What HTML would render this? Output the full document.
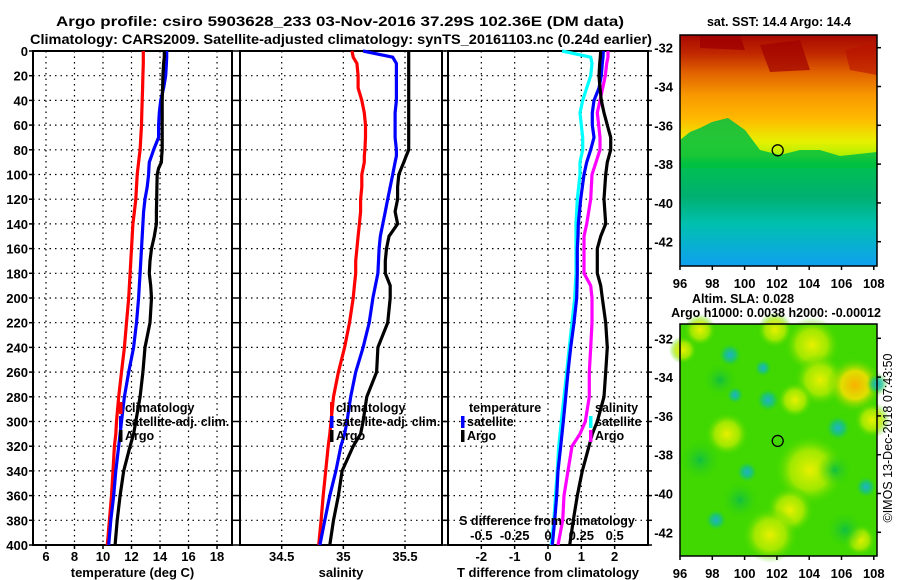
<!DOCTYPE html>
<html><head><meta charset="utf-8"><style>
html,body{margin:0;padding:0;background:#fff;}
svg{display:block;font-family:"Liberation Sans",Arial,sans-serif;font-weight:bold;}
</style></head><body>
<svg id="c" width="900" height="580" viewBox="0 0 900 580">
<defs>
<linearGradient id="sst" x1="0" y1="0" x2="0" y2="1">
<stop offset="0" stop-color="#a80800"/><stop offset="0.08" stop-color="#c02800"/><stop offset="0.16" stop-color="#e06000"/><stop offset="0.26" stop-color="#f89800"/><stop offset="0.36" stop-color="#ffb800"/><stop offset="0.46" stop-color="#e8f000"/><stop offset="0.52" stop-color="#b0f000"/><stop offset="0.56" stop-color="#00c050"/><stop offset="0.7" stop-color="#00b070"/><stop offset="0.82" stop-color="#00c0b0"/><stop offset="1" stop-color="#10a0f0"/>
</linearGradient>
<radialGradient id="yb"><stop offset="0" stop-color="#e8f000"/><stop offset="0.55" stop-color="#b8ec00" stop-opacity="0.8"/><stop offset="1" stop-color="#40d800" stop-opacity="0"/></radialGradient>
<radialGradient id="ob"><stop offset="0" stop-color="#f8b000"/><stop offset="0.5" stop-color="#f0e000" stop-opacity="0.9"/><stop offset="1" stop-color="#40d800" stop-opacity="0"/></radialGradient>
<radialGradient id="tb"><stop offset="0" stop-color="#20b0d0"/><stop offset="0.5" stop-color="#10c090" stop-opacity="0.7"/><stop offset="1" stop-color="#40d800" stop-opacity="0"/></radialGradient>
<radialGradient id="gb"><stop offset="0" stop-color="#10c040"/><stop offset="1" stop-color="#40d800" stop-opacity="0"/></radialGradient>
</defs>
<g id="titles">
<text x="340" y="26" text-anchor="middle" font-size="14" textLength="568" lengthAdjust="spacingAndGlyphs">Argo profile: csiro 5903628_233 03-Nov-2016 37.29S 102.36E (DM data)</text>
<text x="341" y="44" text-anchor="middle" font-size="14" textLength="622" lengthAdjust="spacingAndGlyphs">Climatology: CARS2009. Satellite-adjusted climatology: synTS_20161103.nc (0.24d earlier)</text>
</g>
<g id="plots"></g>
<g id="maps"></g>
</svg>
<script>
const depths=[0,5,10,20,30,40,50,60,70,80,85,90,95,100,110,120,130,140,150,160,170,180,190,200,220,240,260,280,300,310,320,340,360,380,400];
const climT=[12.83,12.83,12.83,12.8,12.78,12.75,12.72,12.7,12.65,12.6,12.55,12.5,12.45,12.4,12.35,12.3,12.2,12.1,12.05,12.0,11.95,11.9,11.85,11.8,11.65,11.5,11.3,11.1,10.95,10.9,10.8,10.7,10.6,10.45,10.3];
const satT=[14.47,14.47,14.45,14.4,14.25,14.05,13.95,13.9,13.9,13.55,13.4,13.25,13.22,13.2,13.1,12.95,12.85,12.8,12.75,12.7,12.65,12.6,12.55,12.5,12.35,12.15,11.8,11.5,11.3,11.2,11.1,10.9,10.75,10.55,10.4];
const argoT=[14.3,14.3,14.25,14.2,14.18,14.15,14.15,14.15,14.15,14.15,14.12,14.1,13.9,13.8,13.78,13.77,13.75,13.75,13.6,13.4,13.3,13.25,13.35,13.4,13.3,12.95,12.8,12.6,12.3,12.15,11.9,11.45,11.2,11.0,10.85];
const climS=[35.07,35.08,35.11,35.12,35.12,35.15,35.17,35.18,35.18,35.175,35.17,35.17,35.16,35.15,35.15,35.14,35.14,35.13,35.12,35.11,35.10,35.10,35.09,35.08,35.05,35.01,34.96,34.92,34.90,34.89,34.877,34.857,34.837,34.82,34.80];
const satS=[35.16,35.40,35.43,35.43,35.43,35.43,35.42,35.42,35.42,35.43,35.43,35.42,35.41,35.40,35.38,35.36,35.34,35.32,35.30,35.29,35.285,35.28,35.26,35.24,35.21,35.16,35.10,35.06,35.03,35.01,34.98,34.94,34.89,34.85,34.81];
const argoS=[35.53,35.53,35.53,35.53,35.53,35.53,35.53,35.53,35.53,35.53,35.51,35.49,35.47,35.45,35.44,35.44,35.42,35.44,35.37,35.35,35.34,35.34,35.38,35.38,35.36,35.28,35.27,35.19,35.16,35.14,35.08,34.99,34.96,34.92,34.89];
const diffDepths=[0,5,10,20,30,40,50,60,70,80,90,100,120,140,150,160,180,190,200,220,240,260,280,300,310,320,340,360,380,400];
const tdiffSat=[1.66,1.65,1.63,1.60,1.53,1.38,1.33,1.33,1.38,1.28,1.16,1.08,0.98,0.91,0.90,0.88,0.88,0.87,0.86,0.78,0.68,0.60,0.53,0.46,0.42,0.38,0.30,0.26,0.20,0.13];
const sdiffSat=[0.106,0.32,0.33,0.32,0.29,0.26,0.24,0.25,0.26,0.26,0.24,0.24,0.22,0.21,0.21,0.21,0.21,0.205,0.20,0.18,0.16,0.14,0.12,0.10,0.09,0.08,0.07,0.056,0.044,0.024];
const sdiffArgo=[0.45,0.45,0.44,0.43,0.41,0.39,0.37,0.38,0.39,0.39,0.36,0.33,0.32,0.29,0.27,0.27,0.27,0.32,0.33,0.33,0.32,0.31,0.31,0.28,0.24,0.18,0.15,0.12,0.11,0.075];
const tdiffArgo=[1.58,1.57,1.55,1.53,1.56,1.60,1.68,1.78,1.88,1.88,1.78,1.73,1.68,1.73,1.58,1.48,1.48,1.58,1.63,1.73,1.78,1.73,1.68,1.48,1.33,1.23,1.03,0.88,0.76,0.65];
const depthTicks=[0,20,40,60,80,100,120,140,160,180,200,220,240,260,280,300,320,340,360,380,400];
const tempTicks=[6,8,10,12,14,16,18];
const salTicks=[34.5,35,35.5];
const tdiffTicks=[-2,-1,0,1,2];
const sdiffTicks=[-0.5,-0.25,0,0.25,0.5];
const sdiffLabels=["-0.5","-0.25","0","0.25","0.5"];
const lonTicks=[96,98,100,102,104,106,108];
const latTicks=[-32,-34,-36,-38,-40,-42];
const argoPos=[102.36,-37.29];

const NS="http://www.w3.org/2000/svg";
function mk(tag,attrs,parent,txt){const e=document.createElementNS(NS,tag);for(const k in attrs)e.setAttribute(k,attrs[k]);if(txt!==undefined)e.textContent=txt;parent.appendChild(e);return e;}
const plots=document.getElementById('plots');
const Y0=51,Y1=545;
const yD=d=>Y0+(d/400)*(Y1-Y0);
const panels=[
 {name:'temperature',x0:33,x1:232,d0:5.09,d1:19.05,ticks:tempTicks,labels:tempTicks.map(String),xlabel:'temperature (deg C)'},
 {name:'salinity',x0:240,x1:442,d0:34.162,d1:35.80,ticks:salTicks,labels:salTicks.map(String),xlabel:'salinity'},
 {name:'difference',x0:448,x1:648,d0:-3,d1:3,ticks:tdiffTicks,labels:tdiffTicks.map(String),xlabel:'T difference from climatology'}
];
function sx(p,v){return p.x0+(v-p.d0)/(p.d1-p.d0)*(p.x1-p.x0);}
function line(p,dep,vals,color,name,scaleFn){
 let d='';vals.forEach((v,i)=>{const x=scaleFn?scaleFn(v):sx(p,v);d+=(i?'L':'M')+x.toFixed(1)+','+yD(dep[i]).toFixed(1);});
 const el=mk('path',{d:d,fill:'none',stroke:color,'stroke-width':3.2,'stroke-linejoin':'miter'},plots);
 
 
}
panels.forEach((p,pi)=>{
 const g=mk('g',{},plots);
 
 
 depthTicks.forEach(t=>{const y=yD(t);
  if(t>0&&t<400)mk('line',{x1:p.x0,x2:p.x1,y1:y,y2:y,stroke:'#000','stroke-width':1.2,'stroke-dasharray':'1.5,4'},g);
  mk('line',{x1:p.x0-4,x2:p.x0,y1:y,y2:y,stroke:'#000','stroke-width':1.5},g);
  mk('line',{x1:p.x1,x2:p.x1+4,y1:y,y2:y,stroke:'#000','stroke-width':1.5},g);
  if(pi===0){const tl=mk('text',{x:28,y:y+5,'text-anchor':'end','font-size':13},g,String(t));
   
   }
 });
 p.ticks.forEach((t,i)=>{const x=sx(p,t);
  mk('line',{x1:x,x2:x,y1:Y0,y2:Y1,stroke:'#000','stroke-width':1.2,'stroke-dasharray':'1.5,4'},g);
  mk('line',{x1:x,x2:x,y1:Y1,y2:Y1+4,stroke:'#000','stroke-width':1.5},g);
  const tl=mk('text',{x:x,y:561,'text-anchor':'middle','font-size':13},g,p.labels[i]);
  
  
 });
 mk('rect',{x:p.x0,y:Y0,width:p.x1-p.x0,height:Y1-Y0,fill:'none',stroke:'#000','stroke-width':2},g);
 const xl=mk('text',{x:(p.x0+p.x1)/2,y:577,'text-anchor':'middle','font-size':13},g,p.xlabel);
 
 
});
const P=panels;
line(P[0],depths,climT,'#ff0000','temp-climatology-line');
line(P[0],depths,satT,'#0000ff','temp-satellite-line');
line(P[0],depths,argoT,'#000','temp-argo-line');
line(P[1],depths,climS,'#ff0000','salinity-climatology-line');
line(P[1],depths,satS,'#0000ff','salinity-satellite-line');
line(P[1],depths,argoS,'#000','salinity-argo-line');
const sdx=v=>sx(P[2],v*4);
line(P[2],diffDepths,sdiffSat,'#00ffff','sdiff-satellite-line',sdx);
line(P[2],diffDepths,tdiffSat,'#0000ff','tdiff-satellite-line');
line(P[2],diffDepths,sdiffArgo,'#ff00ff','sdiff-argo-line',sdx);
line(P[2],diffDepths,tdiffArgo,'#000','tdiff-argo-line');
const sg=mk('g',{},plots);


mk('text',{x:547,y:525,'text-anchor':'middle','font-size':12.5},sg,'S difference from climatology');
sdiffTicks.forEach((t,i)=>{const tl=mk('text',{x:sdx(t),y:540,'text-anchor':'middle','font-size':13},sg,sdiffLabels[i]);
 
 });
function legend(x,y,items,name){
 const g=mk('g',{},plots);
 
 
 items.forEach((it,i)=>{const yy=y+i*14;
  if(it[1])mk('rect',{x:x,y:yy-10,width:3.5,height:12,fill:it[1]},g);
  const t=mk('text',{x:it[1]?x+6:x,y:yy,'font-size':12.5},g,it[0]);
  
  
 });
}
legend(119,412,[['climatology','#ff0000'],['satellite-adj. clim.','#0000ff'],['Argo','#000']],'temp-legend');
legend(330,412,[['climatology','#ff0000'],['satellite-adj. clim.','#0000ff'],['Argo','#000']],'salinity-legend');
legend(469,412,[['temperature',null]],'tdiff-legend-title');
legend(461,426,[['satellite','#0000ff'],['Argo','#000']],'tdiff-legend');
legend(595,412,[['salinity',null]],'sdiff-legend-title');
legend(589,426,[['satellite','#00ffff'],['Argo','#ff00ff']],'sdiff-legend');

const maps=document.getElementById('maps');
function mapFrame(y0,y1,latTop,name,fillFn){
 const g=mk('g',{},maps);
 
 
 const x0=680,x1=877;
 fillFn(g,x0,y0,x1,y1);
 mk('rect',{x:x0,y:y0,width:x1-x0,height:y1-y0,fill:'none',stroke:'#000','stroke-width':1.5},g);
 const lx=v=>680+(v-96)*16.15, ly=v=>latTop+(-32-v)*19.4;
 latTicks.forEach(t=>{const y=ly(t);mk('line',{x1:x1,x2:x1+4,y1:y,y2:y,stroke:'#000','stroke-width':1.5},g);
  const tl=mk('text',{x:673,y:y+5,'text-anchor':'end','font-size':13},g,String(t));
  
  });
 lonTicks.forEach(t=>{const x=lx(t);mk('line',{x1:x,x2:x,y1:y1,y2:y1+4,stroke:'#000','stroke-width':1.5},g);
  const tl=mk('text',{x:x,y:y1+22,'text-anchor':'middle','font-size':13},g,String(t));
  
  });
 const c=mk('circle',{cx:lx(argoPos[0])-5,cy:ly(argoPos[1]),r:5.5,fill:'none',stroke:'#000','stroke-width':1.3},g);
 
 
}
mapFrame(35,266,47.7,'sst-map',(g,x0,y0,x1,y1)=>{
 mk('rect',{x:x0,y:y0,width:x1-x0,height:y1-y0,fill:'url(#sst)'},g);
 mk('path',{d:'M680,140 L690,132 L700,128 L712,122 L728,118 L745,130 L760,150 L780,155 L800,150 L820,150 L840,156 L877,152 L877,168 L680,168Z',fill:'#00c040',opacity:0.85},g);
 mk('path',{d:'M700,35 L740,35 L745,50 L700,48Z',fill:'#a00000',opacity:0.8},g);
 mk('path',{d:'M760,45 L800,40 L810,70 L770,72Z',fill:'#a00000',opacity:0.7},g);
 mk('path',{d:'M845,50 L877,42 L877,75 L850,70Z',fill:'#b81000',opacity:0.6},g);
});
mapFrame(324,556,338.3,'sla-map',(g,x0,y0,x1,y1)=>{
 mk('rect',{x:x0,y:y0,width:x1-x0,height:y1-y0,fill:'#40d800'},g);
 const blobs=[['yb',812,345,28],['yb',820,380,26],['yb',795,400,18],['ob',855,385,28],['yb',872,420,18],['yb',810,470,36],['yb',790,510,24],['yb',770,535,28],['yb',727,434,22],['yb',775,330,18],['yb',683,350,14],['yb',700,330,16],['yb',860,540,16],
  ['tb',730,355,12],['tb',763,368,9],['tb',768,400,12],['tb',838,428,13],['tb',866,487,11],['tb',877,384,11],['tb',716,520,11],['tb',747,472,11],['tb',735,395,9],['gb',700,460,22],['gb',740,500,20],['gb',845,530,20],['gb',835,470,18],['gb',720,380,18]];
 blobs.forEach(b=>mk('circle',{cx:b[1],cy:b[2],r:b[3],fill:'url(#'+b[0]+')'},g));
});
function txt(x,y,s,name,anchor,size){const t=mk('text',{x:x,y:y,'text-anchor':anchor||'middle','font-size':size||12.5},maps,s);
 
 return t;}
txt(779,26,'sat. SST: 14.4 Argo: 14.4','sst-map-title');
txt(743,303,'Altim. SLA: 0.028','sla-title');
txt(776,317,'Argo h1000: 0.0038 h2000: -0.00012','steric-height-title');
const cp=txt(0,0,'©IMOS 13-Dec-2018 07:43:50','copyright-text','middle',12.5);
cp.setAttribute('font-weight','normal');
cp.setAttribute('transform','translate(892,438) rotate(-90)');
</script>
</body></html>
